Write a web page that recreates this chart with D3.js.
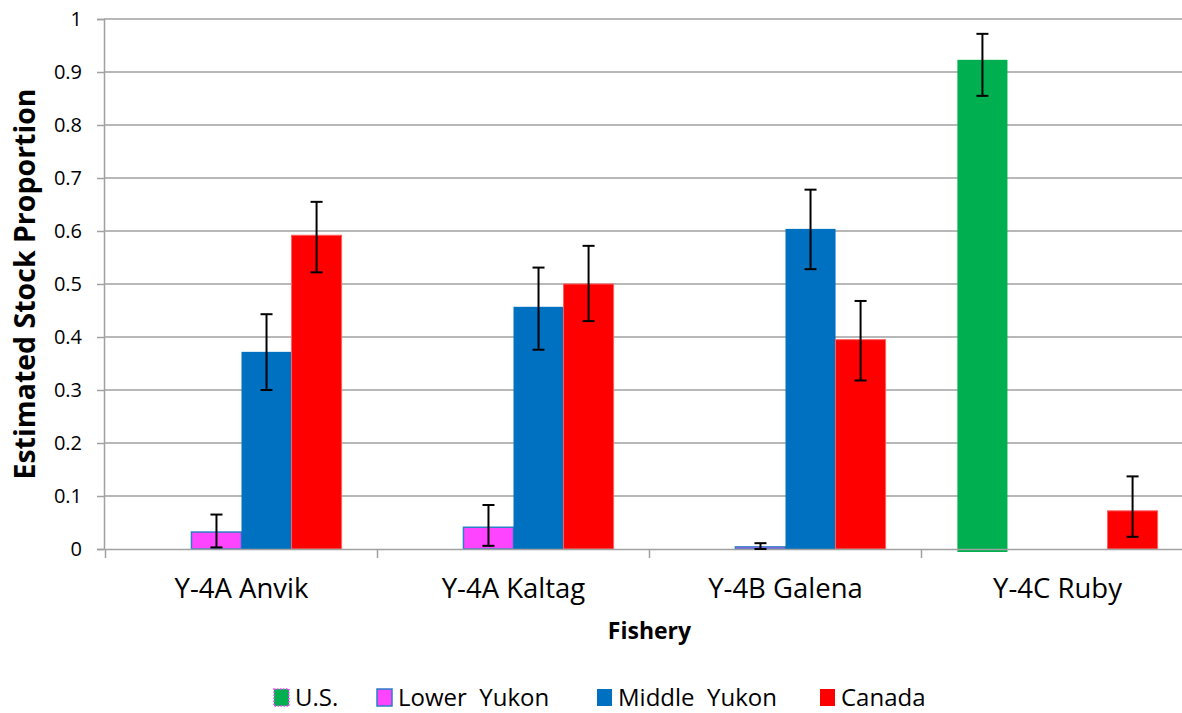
<!DOCTYPE html>
<html>
<head>
<meta charset="utf-8">
<script src="https://cdn.jsdelivr.net/npm/d3@7/dist/d3.min.js"></script>
<style>
  html, body { margin: 0; padding: 0; background: #fff; overflow: hidden; }
  svg { display: block; font-family: "Open Sans", "Noto Sans", sans-serif; }
</style>
</head>
<body>
<svg id="chart" width="1182" height="713"></svg>
<script>
const categories = ["Y-4A Anvik", "Y-4A Kaltag", "Y-4B Galena", "Y-4C Ruby"];
const seriesNames = ["U.S.", "Lower  Yukon", "Middle  Yukon", "Canada"];
const seriesColors = ["#00B050", "#FF44FF", "#0070C0", "#FF0000"];
// values per series, per category (null = no bar)
const usValues     = [null, null, null, 0.923];
const lowerValues  = [0.032, 0.041, 0.004, null];
const middleValues = [0.372, 0.457, 0.604, null];
const canadaValues = [0.592, 0.500, 0.395, 0.072];
// error bar lows / highs
const usLow      = [null, null, null, 0.855];
const usHigh     = [null, null, null, 0.972];
const lowerLow   = [0.003, 0.006, 0.000, null];
const lowerHigh  = [0.065, 0.083, 0.011, null];
const middleLow  = [0.300, 0.376, 0.528, null];
const middleHigh = [0.443, 0.531, 0.678, null];
const canadaLow  = [0.522, 0.430, 0.318, 0.023];
const canadaHigh = [0.655, 0.572, 0.468, 0.137];
const yTicks = [0, 0.1, 0.2, 0.3, 0.4, 0.5, 0.6, 0.7, 0.8, 0.9, 1];

const seriesValues = [usValues, lowerValues, middleValues, canadaValues];
const seriesLow = [usLow, lowerLow, middleLow, canadaLow];
const seriesHigh = [usHigh, lowerHigh, middleHigh, canadaHigh];

const svg = d3.select("#chart");
const mLeft = 104, mTop = 19, mBottom = 549;
const bandStart = 105.5, bandEnd = 1193.5;

const x0 = d3.scaleBand().domain(categories).range([bandStart, bandEnd]).padding(0);
const gw = x0.bandwidth();
const x1 = d3.scaleBand().domain(d3.range(4)).range([gw * 0.132, gw * 0.868]).padding(0);
const y = d3.scaleLinear().domain([0, 1]).range([mBottom, mTop]);

// gridlines
svg.append("g").selectAll("line").data(yTicks.filter(d => d > 0)).join("line")
  .attr("x1", mLeft).attr("x2", bandEnd)
  .attr("y1", d => y(d)).attr("y2", d => y(d))
  .attr("stroke", "#a0a0a0").attr("stroke-width", 1.5);

// bars
const rows = [];
categories.forEach((c, ci) => {
  seriesValues.forEach((arr, si) => {
    if (arr[ci] !== null) rows.push({c, ci, si, v: arr[ci], lo: seriesLow[si][ci], hi: seriesHigh[si][ci]});
  });
});

svg.append("g").selectAll("rect").data(rows).join("rect")
  .attr("x", d => x0(d.c) + x1(d.si))
  .attr("width", x1.bandwidth())
  .attr("y", d => y(d.v))
  .attr("height", d => y(0) - y(d.v) + (d.si === 0 ? 3 : 0))
  .attr("fill", d => seriesColors[d.si])
  .attr("stroke", d => d.si === 1 ? "#2a7fc8" : (d.si === 3 ? "#ff6060" : "none"))
  .attr("stroke-width", d => d.si === 1 ? 1.5 : 1);

// axes
const yAxis = d3.axisLeft(y).tickValues(yTicks).tickSize(7).tickPadding(15)
  .tickFormat(d => d === 0 ? "0" : d === 1 ? "1" : d3.format(".1f")(d));
const gy = svg.append("g").attr("transform", `translate(${mLeft},0)`).call(yAxis);
gy.select(".domain").attr("stroke", "#a0a0a0").attr("stroke-width", 1.5);
gy.selectAll(".tick line").attr("stroke", "#a0a0a0").attr("stroke-width", 1.5);
gy.selectAll(".tick text").attr("font-size", 20).attr("fill", "#000")
  .attr("font-family", "'Open Sans', sans-serif");

const xAxis = d3.axisBottom(x0).tickSize(0).tickPadding(29);
const gx = svg.append("g").attr("transform", `translate(0,${mBottom})`).call(xAxis);
gx.select(".domain").attr("stroke", "#a0a0a0").attr("stroke-width", 1.5);
gx.selectAll(".tick text").attr("font-size", 27.5).attr("fill", "#000")
  .attr("font-family", "'Open Sans', sans-serif");
// category separator ticks
svg.append("g").selectAll("line").data(categories.concat(["__end"])).join("line")
  .attr("x1", (d, i) => bandStart + i * gw).attr("x2", (d, i) => bandStart + i * gw)
  .attr("y1", mBottom).attr("y2", mBottom + 9)
  .attr("stroke", "#a0a0a0").attr("stroke-width", 1.5);

// error bars
const eb = svg.append("g").selectAll("g").data(rows.filter(d => d.lo !== null)).join("g")
  .attr("transform", d => `translate(${x0(d.c) + x1(d.si) + x1.bandwidth() / 2},0)`);
eb.append("line").attr("y1", d => y(d.lo)).attr("y2", d => y(d.hi))
  .attr("stroke", "#000").attr("stroke-width", 2);
eb.append("line").attr("x1", -6).attr("x2", 6).attr("y1", d => y(d.lo)).attr("y2", d => y(d.lo))
  .attr("stroke", "#000").attr("stroke-width", 2);
eb.append("line").attr("x1", -6).attr("x2", 6).attr("y1", d => y(d.hi)).attr("y2", d => y(d.hi))
  .attr("stroke", "#000").attr("stroke-width", 2);

// titles
svg.append("text").attr("transform", `translate(35,${(mTop + mBottom) / 2}) rotate(-90)`)
  .attr("text-anchor", "middle").attr("font-size", 28.5).attr("font-weight", "bold")
  .attr("font-family", "'Open Sans', sans-serif")
  .text("Estimated Stock Proportion");
svg.append("text").attr("x", (bandStart + bandEnd) / 2).attr("y", 639)
  .attr("text-anchor", "middle").attr("font-size", 23).attr("font-weight", "bold")
  .attr("font-family", "'Open Sans', sans-serif")
  .text("Fishery");

// legend
const legendX = [274, 377, 597, 820];
const lg = svg.append("g").selectAll("g").data(seriesNames).join("g")
  .attr("transform", (d, i) => `translate(${legendX[i]},689)`);
lg.append("rect").attr("width", 15).attr("height", 17)
  .attr("fill", (d, i) => seriesColors[i])
  .attr("stroke", (d, i) => i === 0 ? "#ff44ff" : i === 1 ? "#2a7fc8" : "none")
  .attr("stroke-dasharray", (d, i) => i === 0 ? "1.5,1.5" : null)
  .attr("stroke-width", 1.5);
lg.append("text").attr("x", 21).attr("y", 17).attr("font-size", 24)
  .attr("font-family", "'Open Sans', sans-serif")
  .style("white-space", "pre").attr("xml:space", "preserve")
  .text(d => d);
</script>
</body>
</html>
